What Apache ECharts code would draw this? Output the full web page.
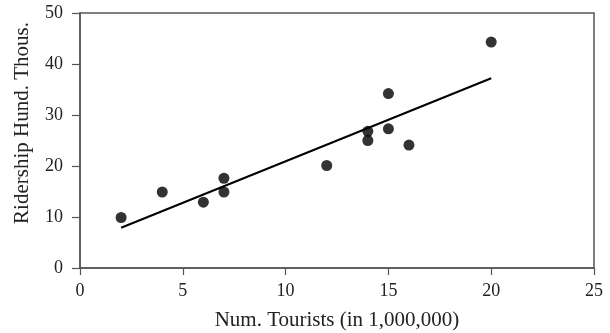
<!DOCTYPE html>
<html><head><meta charset="utf-8">
<script src="https://cdn.jsdelivr.net/npm/echarts@6/dist/echarts.min.js"></script>
<style>html,body{margin:0;padding:0;background:#fff}#c{width:610px;height:333px}</style>
</head><body><div id="c"></div>
<script>
const tourists = [2, 4, 6, 7, 7, 12, 14, 14, 15, 15, 16, 20];
const ridership = [9.9, 14.9, 12.9, 17.6, 14.9, 20.1, 25.0, 26.8, 34.2, 27.3, 24.1, 44.3];
const fitX = [2, 20];
const fitY = [7.9, 37.2];
const xTicks = [0, 5, 10, 15, 20, 25];
const yTicks = [0, 10, 20, 30, 40, 50];

const font = "'Liberation Serif', 'DejaVu Serif', serif";
const chart = echarts.init(document.getElementById('c'), null, {renderer: 'canvas'});
chart.setOption({
  animation: false,
  grid: {left: 80, right: 16, top: 13, bottom: 65, outerBoundsMode: 'none', containLabel: false,
         show: true, borderColor: '#555', borderWidth: 1.5, backgroundColor: 'transparent'},
  xAxis: {
    type: 'value', min: xTicks[0], max: xTicks[xTicks.length - 1], interval: 5,
    name: 'Num. Tourists (in 1,000,000)', nameLocation: 'middle', nameGap: 42,
    nameTextStyle: {fontFamily: font, fontSize: 21, color: '#222'},
    axisLine: {lineStyle: {color: '#555', width: 1.5}},
    axisTick: {show: true, length: 7, lineStyle: {color: '#555', width: 1.2}},
    axisLabel: {fontFamily: font, fontSize: 18, color: '#222', margin: 14},
    splitLine: {show: false}
  },
  yAxis: {
    type: 'value', min: yTicks[0], max: yTicks[yTicks.length - 1], interval: 10,
    axisLine: {show: true, lineStyle: {color: '#555', width: 1.5}},
    axisTick: {show: true, length: 8, lineStyle: {color: '#555', width: 1.2}},
    axisLabel: {fontFamily: font, fontSize: 18, color: '#222', margin: 17},
    splitLine: {show: false}
  },
  graphic: [{
    type: 'text', x: 22, y: 123, rotation: Math.PI / 2,
    style: {text: 'Ridership Hund. Thous.', fontFamily: font, fontSize: 21, fill: '#222',
            align: 'center', verticalAlign: 'middle'}
  }],
  series: [
    {type: 'scatter', data: tourists.map((x, i) => [x, ridership[i]]), symbolSize: 11,
     itemStyle: {color: '#000'}, z: 3},
    {type: 'line', data: fitX.map((x, i) => [x, fitY[i]]), symbol: 'none',
     lineStyle: {color: '#000', width: 2}, z: 2}
  ]
});
</script></body></html>
